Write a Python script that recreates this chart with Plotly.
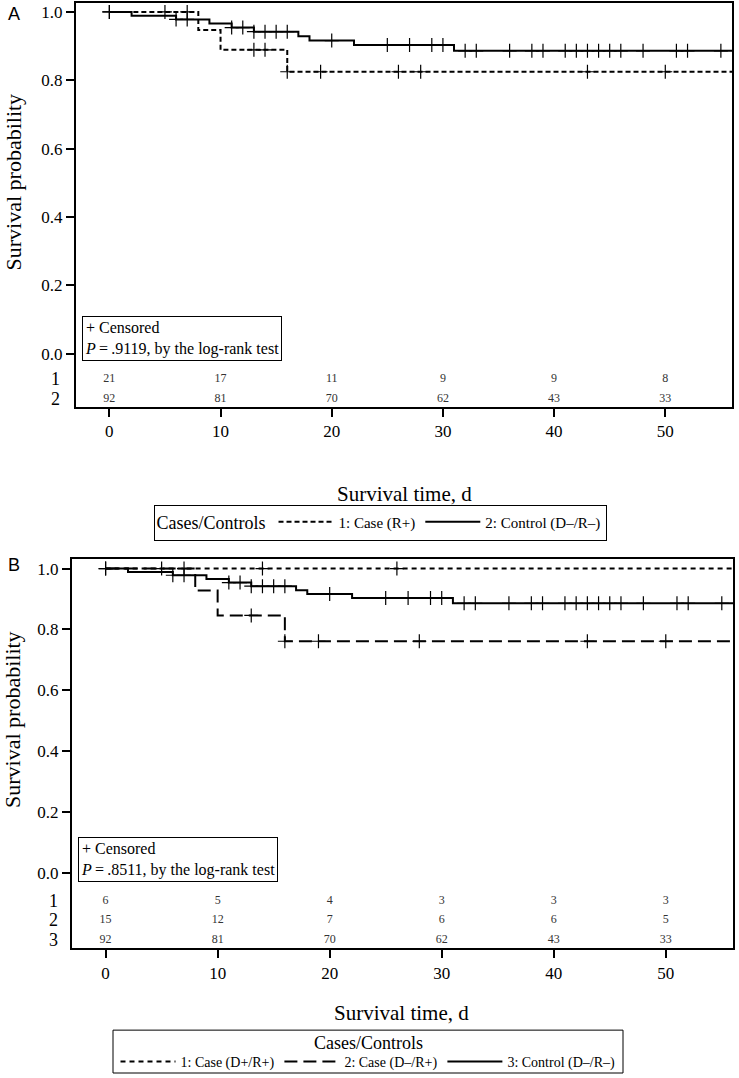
import plotly.graph_objects as go

W, H = 739, 1078

# ---------------- data ----------------
# Panel A
a_case_t = [0, 8, 10, 16]
a_case_s = [1.0, 0.947, 0.889, 0.825]
a_case_cens = [0, 5, 7, 13, 14, 16, 19, 26, 28, 43, 50]

ctrl_t = [0, 2, 6, 9, 11, 13, 17, 18, 22, 31]
ctrl_s = [1.0, 0.989, 0.978, 0.966, 0.954, 0.942, 0.929, 0.916, 0.903, 0.886]
ctrl_cens = [0, 6, 7, 11, 12, 13, 14, 15, 16, 20, 25, 27, 29, 30, 32, 33, 36, 38,
             39, 41, 42, 43, 44, 45, 46, 48, 51, 52, 55]

# Panel B
b_c1_t = [0]
b_c1_s = [1.0]
b_c1_cens = [0, 5, 14, 26]
b_c2_t = [0, 8, 10, 16]
b_c2_s = [1.0, 0.928, 0.846, 0.761]
b_c2_cens = [7, 13, 16, 19, 28, 43, 50]

follow_up_end = 56

risk_times = [0, 10, 20, 30, 40, 50]
a_risk_1 = [21, 17, 11, 9, 9, 8]
a_risk_2 = [92, 81, 70, 62, 43, 33]
b_risk_1 = [6, 5, 4, 3, 3, 3]
b_risk_2 = [15, 12, 7, 6, 6, 5]
b_risk_3 = [92, 81, 70, 62, 43, 33]

a_names = ["1: Case (R+)", "2: Control (D\u2013/R\u2013)"]
b_names = ["1: Case (D+/R+)", "2: Case (D\u2013/R+)", "3: Control (D\u2013/R\u2013)"]

SERIF = "Liberation Serif, Times New Roman, serif"
SANS = "Liberation Sans, Arial, sans-serif"


def px_x(p):
    return p / W


def px_y(p):
    return 1 - p / H


def surv_at(t, times, surv):
    v = surv[0]
    for ti, si in zip(times, surv):
        if ti <= t:
            v = si
    return v


fig = go.Figure()


def add_curve(times, surv, cens, name, dash, xa, ya, legend):
    fig.add_trace(go.Scatter(
        x=list(times) + [follow_up_end], y=list(surv) + [surv[-1]],
        mode="lines", line=dict(shape="hv", color="black", width=2, dash=dash),
        name=name, xaxis=xa, yaxis=ya, legend=legend, hoverinfo="skip"))
    fig.add_trace(go.Scatter(
        x=cens, y=[surv_at(c, times, surv) for c in cens], mode="markers",
        marker=dict(symbol="cross-thin", size=10, color="black",
                    line=dict(color="black", width=1.2)),
        showlegend=False, xaxis=xa, yaxis=ya, hoverinfo="skip"))


add_curve(a_case_t, a_case_s, a_case_cens, a_names[0], "5px,3px", "x", "y", "legend")
add_curve(ctrl_t, ctrl_s, ctrl_cens, a_names[1], "solid", "x", "y", "legend")

add_curve(b_c1_t, b_c1_s, b_c1_cens, b_names[0], "5px,4px", "x2", "y2", "legend2")
add_curve(b_c2_t, b_c2_s, b_c2_cens, b_names[1], "13px,6px", "x2", "y2", "legend2")
add_curve(ctrl_t, ctrl_s, ctrl_cens, b_names[2], "solid", "x2", "y2", "legend2")

# at-risk rows
a_rows_y = [-0.073, -0.131]
b_rows_y = [-0.092, -0.157, -0.223]


def add_risk(vals, yv, xa, ya):
    fig.add_trace(go.Scatter(
        x=risk_times, y=[yv] * len(risk_times), text=[str(v) for v in vals],
        mode="text", textposition="middle center",
        textfont=dict(family=SERIF, size=12, color="#333"),
        showlegend=False, xaxis=xa, yaxis=ya, hoverinfo="skip", cliponaxis=False))


add_risk(a_risk_1, a_rows_y[0], "x", "y")
add_risk(a_risk_2, a_rows_y[1], "x", "y")
add_risk(b_risk_1, b_rows_y[0], "x2", "y2")
add_risk(b_risk_2, b_rows_y[1], "x2", "y2")
add_risk(b_risk_3, b_rows_y[2], "x2", "y2")

axis_common = dict(showline=True, linecolor="black", linewidth=2, mirror=True,
                   ticks="outside", ticklen=8, tickwidth=2, tickcolor="black",
                   showgrid=False, zeroline=False,
                   tickfont=dict(family=SERIF, size=17, color="black"))

fig.update_layout(
    width=W, height=H, margin=dict(l=0, r=0, t=0, b=0),
    paper_bgcolor="white", plot_bgcolor="white",
    font=dict(family=SERIF, color="black"),
    xaxis=dict(domain=[px_x(76), px_x(732)], range=[-3, 56], anchor="y",
               tickvals=risk_times, **axis_common),
    yaxis=dict(domain=[px_y(408), px_y(3)], range=[-0.155, 1.026], anchor="x",
               tickvals=[0, 0.2, 0.4, 0.6, 0.8, 1.0], tickformat=".1f", **axis_common),
    xaxis2=dict(domain=[px_x(72), px_x(733)], range=[-3, 56], anchor="y2",
                tickvals=risk_times, **axis_common),
    yaxis2=dict(domain=[px_y(951), px_y(561)], range=[-0.249, 1.03], anchor="x2",
                tickvals=[0, 0.2, 0.4, 0.6, 0.8, 1.0], tickformat=".1f", **axis_common),
    legend=dict(orientation="h", x=px_x(380), xanchor="center", y=px_y(506), yanchor="top",
                title=dict(text="Cases/Controls", side="left",
                           font=dict(family=SERIF, size=18, color="black")),
                font=dict(family=SERIF, size=15, color="black"),
                bordercolor="black", borderwidth=1, itemwidth=55, bgcolor="white"),
    legend2=dict(orientation="h", x=px_x(368), xanchor="center", y=px_y(1065), yanchor="middle",
                 font=dict(family=SERIF, size=14, color="black"),
                 borderwidth=0, itemwidth=55, bgcolor="rgba(0,0,0,0)"),
    showlegend=True,
    shapes=[dict(type="rect", xref="paper", yref="paper",
                 x0=px_x(113), x1=px_x(623), y0=px_y(1076), y1=px_y(1033),
                 line=dict(color="black", width=1), layer="below")],
)

ann = []
# panel letters
ann.append(dict(text="A", x=px_x(6), y=px_y(14), xref="paper", yref="paper",
                xanchor="left", yanchor="middle", showarrow=False,
                font=dict(family=SANS, size=18, color="black")))
ann.append(dict(text="B", x=px_x(6), y=px_y(567), xref="paper", yref="paper",
                xanchor="left", yanchor="middle", showarrow=False,
                font=dict(family=SANS, size=18, color="black")))
# y titles
for yc in [px_y(183), px_y(722)]:
    ann.append(dict(text="Survival probability", x=px_x(13), y=yc, xref="paper", yref="paper",
                    textangle=-90, xanchor="center", yanchor="middle", showarrow=False,
                    font=dict(family=SERIF, size=22, color="black")))
# x titles
ann.append(dict(text="Survival time, d", x=px_x(404), y=px_y(495), xref="paper", yref="paper",
                xanchor="center", yanchor="middle", showarrow=False,
                font=dict(family=SERIF, size=21, color="black")))
ann.append(dict(text="Survival time, d", x=px_x(402), y=px_y(1016), xref="paper", yref="paper",
                xanchor="center", yanchor="middle", showarrow=False,
                font=dict(family=SERIF, size=21, color="black")))
# legend B title
ann.append(dict(text="Cases/Controls", x=px_x(368), y=px_y(1046), xref="paper", yref="paper",
                xanchor="center", yanchor="middle", showarrow=False,
                font=dict(family=SERIF, size=18, color="black")))
# censored / p-value boxes
ann.append(dict(text="+ Censored<br><i>P</i>\u2009=\u2009.9119, by the log-rank test",
                x=px_x(82), y=px_y(317), xref="paper", yref="paper", xanchor="left",
                yanchor="top", align="left", showarrow=False, bordercolor="black",
                borderwidth=1, borderpad=2, bgcolor="white",
                font=dict(family=SERIF, size=16, color="black")))
ann.append(dict(text="+ Censored<br><i>P</i>\u2009=\u2009.8511, by the log-rank test",
                x=px_x(78), y=px_y(839), xref="paper", yref="paper", xanchor="left",
                yanchor="top", align="left", showarrow=False, bordercolor="black",
                borderwidth=1, borderpad=2, bgcolor="white",
                font=dict(family=SERIF, size=16, color="black")))
# row labels
for i, yv in enumerate(a_rows_y):
    ann.append(dict(text=str(i + 1), x=px_x(62), y=yv, xref="paper", yref="y",
                    xanchor="right", yanchor="middle", showarrow=False,
                    font=dict(family=SERIF, size=18, color="black")))
for i, yv in enumerate(b_rows_y):
    ann.append(dict(text=str(i + 1), x=px_x(60), y=yv, xref="paper", yref="y2",
                    xanchor="right", yanchor="middle", showarrow=False,
                    font=dict(family=SERIF, size=18, color="black")))

fig.update_layout(annotations=ann)

fig.write_html("out.html", config={"displayModeBar": False},
               post_script="document.body.style.margin='0';document.body.style.overflow='hidden';")
